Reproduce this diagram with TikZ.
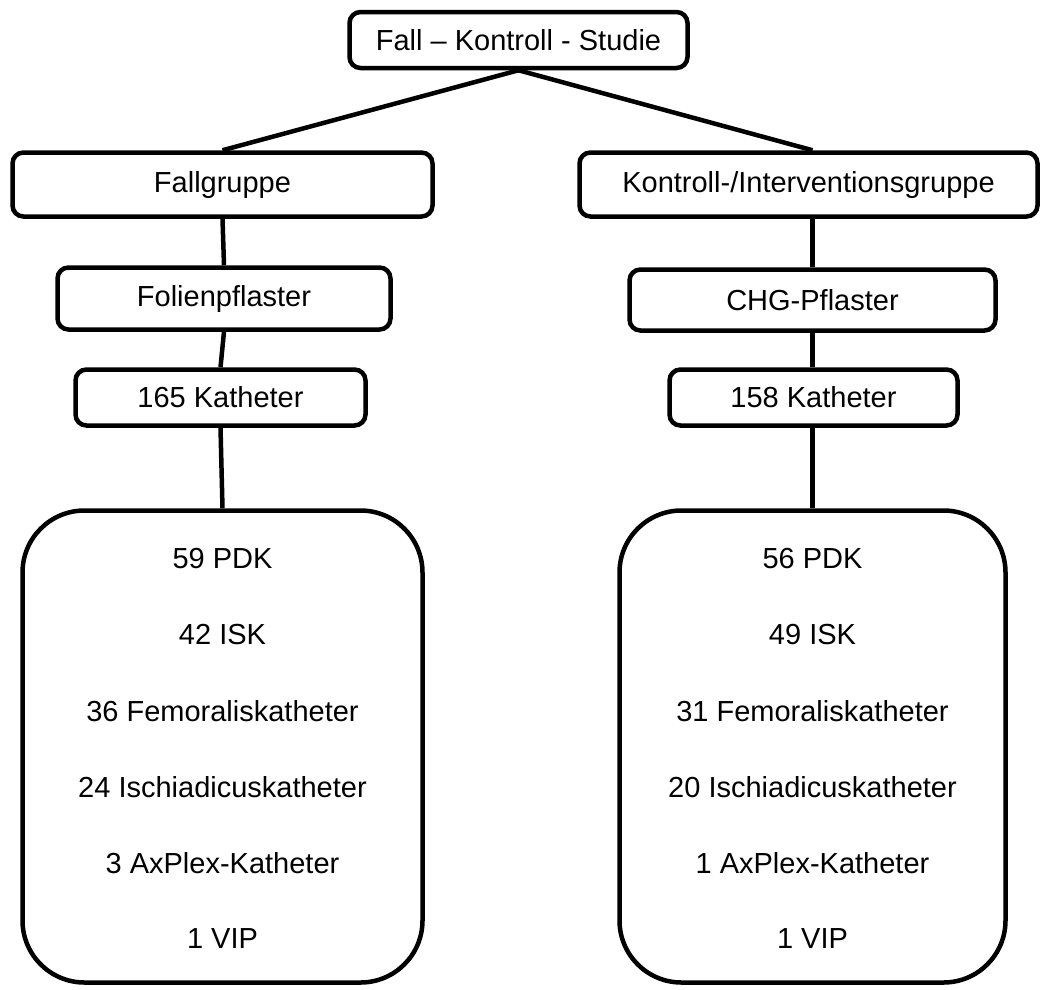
\documentclass[tikz,border=0pt]{standalone}
\usepackage{fontspec}
\setmainfont{Liberation Sans}
\begin{document}
\begin{tikzpicture}[x=1pt,y=-1pt,
  lw/.style={line width=4.5pt},
  box/.style={draw,lw,rectangle,rounded corners=11pt,inner sep=0pt,font=\fontsize{29}{34}\selectfont},
  bigbox/.style={draw,lw,rectangle,rounded corners=62pt,inner sep=0pt},
  item/.style={inner sep=0pt,font=\fontsize{29}{34}\selectfont},
  conn/.style={lw}]
\useasboundingbox (0,0) rectangle (1044,989);
\node[box,minimum width=338pt,minimum height=56pt] (top) at (518.5,40) {Fall – Kontroll - Studie};
\node[box,minimum width=420pt,minimum height=64pt] (fall) at (222.5,184.5) {Fallgruppe};
\node[box,minimum width=458pt,minimum height=64pt] (kon) at (808.5,184.5) {Kontroll-/Interventionsgruppe};
\node[box,minimum width=333pt,minimum height=62pt] (fol) at (224,298.5) {Folienpflaster};
\node[box,minimum width=366pt,minimum height=61pt] (chg) at (812.5,300) {CHG-Pflaster};
\node[box,minimum width=290pt,minimum height=56pt] (k1) at (220.5,397.5) {165 Katheter};
\node[box,minimum width=288pt,minimum height=56pt] (k2) at (813.5,397.5) {158 Katheter};
\node[bigbox,minimum width=400pt,minimum height=472pt] (b1) at (222.5,746.5) {};
\node[bigbox,minimum width=386pt,minimum height=472pt] (b2) at (812.5,746.5) {};
% left items
\node[item] (l1) at (222.5,559) {59 PDK};
\node[item] (l2) at (222.5,635) {42 ISK};
\node[item] (l3) at (222.5,711) {36 Femoraliskatheter};
\node[item] (l4) at (222.5,787) {24 Ischiadicuskatheter};
\node[item] (l5) at (222.5,863) {3 AxPlex-Katheter};
\node[item] (l6) at (222.5,939) {1 VIP};
% right items
\node[item] (r1) at (812.5,559) {56 PDK};
\node[item] (r2) at (812.5,635) {49 ISK};
\node[item] (r3) at (812.5,711) {31 Femoraliskatheter};
\node[item] (r4) at (812.5,787) {20 Ischiadicuskatheter};
\node[item] (r5) at (812.5,863) {1 AxPlex-Katheter};
\node[item] (r6) at (812.5,939) {1 VIP};
% connectors
\draw[conn] (top.south) -- (fall.north);
\draw[conn] (top.south) -- ([xshift=4pt]kon.north);
\draw[conn] (fall.south) -- (fol.north);
\draw[conn] (fol.south) -- (k1.north);
\draw[conn] (k1.south) -- (b1.north);
\draw[conn] (kon.south -| chg.north) -- (chg.north);
\draw[conn] (chg.south) -- (chg.south |- k2.north);
\draw[conn] (k2.south -| b2.north) -- (b2.north);
\end{tikzpicture}
\end{document}
